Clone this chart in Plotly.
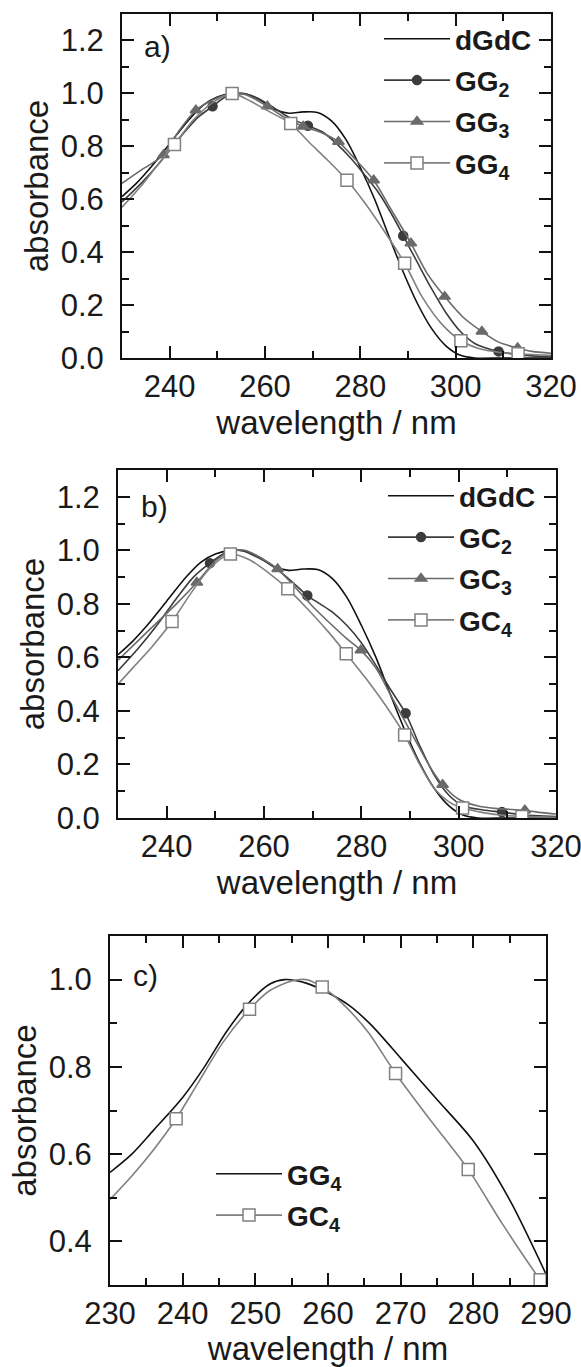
import plotly.graph_objects as go

W, H = 581, 1367

# ---------------- data ----------------
# dGdC reference spectrum (panels a and b)
dgdc_wl = [230, 233, 236, 240, 244, 247, 250, 253, 256, 259, 262, 265, 268, 271, 274, 277,
           280, 283, 286, 289, 292, 295, 298, 301, 304, 310, 320]
dgdc_abs = [0.61, 0.66, 0.72, 0.81, 0.90, 0.955, 0.986, 0.999, 0.998, 0.975, 0.94, 0.925, 0.93,
            0.928, 0.895, 0.825, 0.72, 0.60, 0.46, 0.325, 0.205, 0.11, 0.045, 0.01, 0.0, 0.0, 0.0]

# panel a
gg2_wl = [230, 234, 238, 242, 246, 249, 252, 255, 258, 261, 264, 266, 269, 272, 275, 278, 281,
          284, 287, 289, 292, 295, 298, 301, 304, 306, 309, 312, 316, 320]
gg2_abs = [0.59, 0.66, 0.74, 0.83, 0.91, 0.951, 0.99, 1.0, 0.985, 0.955, 0.92, 0.90, 0.878, 0.855,
           0.81, 0.755, 0.69, 0.62, 0.53, 0.462, 0.36, 0.26, 0.17, 0.10, 0.055, 0.04, 0.025, 0.015,
           0.008, 0.005]
gg2_marks = [249, 269, 289, 309]

gg3_wl = [230, 234, 238.7, 242, 245.5, 249, 253.2, 256, 260.5, 264, 268, 272, 275.4, 279, 282.8,
          286.5, 290.6, 294, 297.7, 301.5, 305.5, 309, 313, 316, 320]
gg3_abs = [0.66, 0.71, 0.767, 0.86, 0.936, 0.975, 0.998, 0.995, 0.951, 0.91, 0.875, 0.85, 0.817,
           0.75, 0.672, 0.56, 0.434, 0.32, 0.232, 0.155, 0.10, 0.06, 0.038, 0.025, 0.018]
gg3_marks = [238.7, 245.5, 253.2, 260.5, 268, 275.4, 282.8, 290.6, 297.7, 305.5, 313]

gg4_wl = [230, 234, 237.5, 241, 245, 249, 253.1, 257, 261, 265.4, 269, 273, 277.2, 281, 285,
          289.3, 293, 297, 301.1, 305, 309, 313.1, 317, 320]
gg4_abs = [0.57, 0.65, 0.73, 0.807, 0.90, 0.965, 1.0, 0.97, 0.93, 0.886, 0.82, 0.75, 0.672, 0.585,
           0.48, 0.358, 0.23, 0.13, 0.065, 0.035, 0.022, 0.016, 0.012, 0.01]
gg4_marks = [241, 253.1, 265.4, 277.2, 289.3, 301.1, 313.1]

# panel b
gc2_wl = [230, 234, 238, 242, 245.5, 248.9, 252, 255, 258, 261, 264, 266.5, 268.9, 271.5, 274,
          277, 280, 283, 286, 289.1, 292, 295, 298, 301, 305, 308.9, 313, 320]
gc2_abs = [0.55, 0.63, 0.72, 0.82, 0.90, 0.952, 0.99, 1.0, 0.98, 0.95, 0.91, 0.87, 0.831, 0.80,
           0.77, 0.72, 0.655, 0.57, 0.48, 0.391, 0.27, 0.16, 0.085, 0.045, 0.03, 0.022, 0.012, 0.005]
gc2_marks = [248.9, 268.9, 289.1, 308.9]

gc3_wl = [230, 234, 238, 242, 246.2, 250, 253, 256, 259, 262.8, 266, 270, 274, 277, 279.9, 283,
          286, 289, 292, 294.5, 296.7, 300, 304, 308, 313.6, 317, 320]
gc3_abs = [0.59, 0.66, 0.73, 0.80, 0.88, 0.96, 0.995, 1.0, 0.975, 0.93, 0.87, 0.79, 0.72, 0.67,
           0.627, 0.56, 0.46, 0.36, 0.26, 0.18, 0.124, 0.07, 0.045, 0.035, 0.029, 0.02, 0.015]
gc3_marks = [246.2, 262.8, 279.9, 296.7, 313.6]

gc4_wl = [230, 233, 237, 241.1, 245, 249, 253.1, 257, 261, 264.9, 269, 273, 276.9, 281, 285,
          288.9, 292, 295, 298, 300.8, 305, 309, 313, 317, 320]
gc4_abs = [0.50, 0.56, 0.64, 0.734, 0.84, 0.935, 0.986, 0.965, 0.915, 0.856, 0.78, 0.70, 0.614,
           0.52, 0.42, 0.31, 0.20, 0.11, 0.06, 0.037, 0.02, 0.01, 0.006, 0.004, 0.003]
gc4_marks = [241.1, 253.1, 264.9, 276.9, 288.9, 300.8, 313]

# panel c
c_gg4_wl = [230, 233, 236, 240, 243, 246, 249, 252, 254, 257, 260, 263, 266, 270, 275, 280, 285, 290]
c_gg4_abs = [0.558, 0.60, 0.655, 0.73, 0.80, 0.88, 0.945, 0.99, 1.0, 0.992, 0.97, 0.94, 0.895,
             0.82, 0.725, 0.63, 0.495, 0.325]

c_gc4_wl = [230, 233, 236, 239.1, 242, 245.5, 249.2, 252, 255, 257, 259.2, 262, 265.5, 269.3,
            274, 279.3, 284, 289.2, 290]
c_gc4_abs = [0.496, 0.55, 0.61, 0.681, 0.76, 0.855, 0.932, 0.975, 0.997, 1.0, 0.983, 0.945, 0.88,
             0.785, 0.68, 0.565, 0.44, 0.312, 0.295]
c_gc4_marks = [239.1, 249.2, 259.2, 269.3, 279.3, 289.2]

# ---------------- styling ----------------
FONT = "Liberation Sans, Arial, sans-serif"
TICK_FS = 31
TITLE_FS = 33
TXT = "#1a1a1a"
C_BLACK = "#111111"
C_DARK = "#3c3c3c"
C_MID = "#6a6a6a"
C_LIGHT = "#808080"

fig = go.Figure()


def add(xs, ys, name, color, xa, ya, legend, marks=None, symbol=None, msize=0,
        mfill=None, width=1.6):
    kw = dict(x=xs, y=ys, name=name, xaxis=xa, yaxis=ya, legend=legend,
              line=dict(color=color, width=width, shape="spline", smoothing=0.8),
              legendgroup=legend + name, hoverinfo="skip")
    if marks:
        kw["mode"] = "lines+markers"
        kw["marker"] = dict(symbol=symbol, size=msize, color=mfill if mfill else color,
                            line=dict(color=color, width=1.5))
        # only the sampled wavelengths carry a visible symbol
        kw["selectedpoints"] = [i for i, w in enumerate(xs) if w in marks]
        kw["selected"] = dict(marker=dict(opacity=1))
        kw["unselected"] = dict(marker=dict(opacity=0))
    else:
        kw["mode"] = "lines"
    fig.add_trace(go.Scatter(**kw))


# panel a
add(dgdc_wl, dgdc_abs, "<b>dGdC</b>", C_BLACK, "x", "y", "legend")
add(gg2_wl, gg2_abs, "<b>GG<sub>2</sub></b>", C_DARK, "x", "y", "legend", gg2_marks, "circle", 9)
add(gg3_wl, gg3_abs, "<b>GG<sub>3</sub></b>", C_MID, "x", "y", "legend", gg3_marks, "triangle-up", 10)
add(gg4_wl, gg4_abs, "<b>GG<sub>4</sub></b>", C_LIGHT, "x", "y", "legend", gg4_marks, "square", 12, "white")
# panel b
add(dgdc_wl, dgdc_abs, "<b>dGdC</b>", C_BLACK, "x2", "y2", "legend2")
add(gc2_wl, gc2_abs, "<b>GC<sub>2</sub></b>", C_DARK, "x2", "y2", "legend2", gc2_marks, "circle", 9)
add(gc3_wl, gc3_abs, "<b>GC<sub>3</sub></b>", C_MID, "x2", "y2", "legend2", gc3_marks, "triangle-up", 10)
add(gc4_wl, gc4_abs, "<b>GC<sub>4</sub></b>", C_LIGHT, "x2", "y2", "legend2", gc4_marks, "square", 12, "white")
# panel c
add(c_gg4_wl, c_gg4_abs, "<b>GG<sub>4</sub></b>", C_BLACK, "x3", "y3", "legend3")
add(c_gc4_wl, c_gc4_abs, "<b>GC<sub>4</sub></b>", C_LIGHT, "x3", "y3", "legend3", c_gc4_marks, "square", 12, "white")


def px_x(p):
    return p / W


def px_y(p):
    return 1 - p / H


def xaxis(l, r, rng, dtick, mdtick, anchor):
    return dict(domain=[px_x(l), px_x(r)], range=rng, anchor=anchor, automargin=False,
                dtick=dtick, tick0=0, ticks="inside", ticklen=12, tickwidth=2,
                minor=dict(dtick=mdtick, ticks="inside", ticklen=7, tickwidth=2, tickcolor=C_BLACK),
                showline=True, linewidth=2, linecolor=C_BLACK, mirror="allticks",
                tickcolor=C_BLACK, showgrid=False, zeroline=False,
                ticklabeloverflow="allow",
                tickfont=dict(family=FONT, size=TICK_FS, color=TXT),
                title=dict(text="wavelength / nm", standoff=8,
                           font=dict(family=FONT, size=TITLE_FS, color=TXT)))


def yaxis(t, b, rng, anchor):
    return dict(domain=[px_y(b), px_y(t)], range=rng, anchor=anchor, automargin=False,
                dtick=0.2, tick0=0, tickformat=".1f", ticks="inside", ticklen=12, tickwidth=2,
                minor=dict(dtick=0.1, ticks="inside", ticklen=7, tickwidth=2, tickcolor=C_BLACK),
                showline=True, linewidth=2, linecolor=C_BLACK, mirror="allticks",
                tickcolor=C_BLACK, showgrid=False, zeroline=False,
                ticklabeloverflow="allow", ticklabelstandoff=10,
                tickfont=dict(family=FONT, size=TICK_FS, color=TXT),
                title=dict(text="absorbance", standoff=2,
                           font=dict(family=FONT, size=TITLE_FS, color=TXT)))


legend_common = dict(font=dict(family=FONT, size=28, color=TXT), bgcolor="rgba(0,0,0,0)",
                     itemsizing="trace", itemwidth=66, tracegroupgap=2, xanchor="left",
                     yanchor="top", borderwidth=0)

fig.update_layout(
    template="none",
    width=W, height=H, margin=dict(l=0, r=0, t=0, b=0, autoexpand=False),
    paper_bgcolor="white", plot_bgcolor="white",
    xaxis=xaxis(122, 551, [230, 320], 20, 10, "y"),
    yaxis=yaxis(14, 358, [0, 1.3], "x"),
    xaxis2=xaxis(118, 556, [230, 320], 20, 10, "y2"),
    yaxis2=yaxis(470, 818, [0, 1.3], "x2"),
    xaxis3=xaxis(110, 546, [230, 290], 10, 5, "y3"),
    yaxis3=yaxis(936, 1285, [0.3, 1.1], "x3"),
    legend=dict(x=px_x(379), y=px_y(14), **legend_common),
    legend2=dict(x=px_x(383), y=px_y(471), **legend_common),
    legend3=dict(x=px_x(211), y=px_y(1149), **legend_common),
    showlegend=True,
    annotations=[
        dict(text="a)", x=px_x(157), y=px_y(46), xref="paper", yref="paper", showarrow=False,
             xanchor="center", yanchor="middle", font=dict(family=FONT, size=30, color=TXT)),
        dict(text="b)", x=px_x(154), y=px_y(506), xref="paper", yref="paper", showarrow=False,
             xanchor="center", yanchor="middle", font=dict(family=FONT, size=30, color=TXT)),
        dict(text="c)", x=px_x(145), y=px_y(976), xref="paper", yref="paper", showarrow=False,
             xanchor="center", yanchor="middle", font=dict(family=FONT, size=30, color=TXT)),
    ],
)

fig.write_html("out.html")
